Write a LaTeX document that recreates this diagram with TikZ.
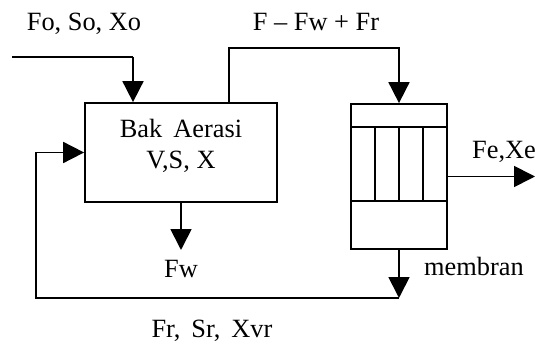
\documentclass[tikz,border=0pt]{standalone}
\usepackage{fontspec}
\setmainfont{Liberation Serif}
\usepackage{tikz}
\usetikzlibrary{arrows.meta,positioning,calc}
\tikzset{
  pipe/.style={line width=1pt,black},
  flow/.style={pipe,-{Triangle[length=0.42cm,width=0.42cm]}},
  tank/.style={draw,line width=1pt,rectangle,inner sep=0pt},
  lbl/.style={font=\fontsize{15}{18}\selectfont,inner sep=0pt},
}
\begin{document}
\begin{tikzpicture}[x=0.02cm,y=-0.02cm]
    \useasboundingbox (0,0) rectangle (535,344);
    % bak aerasi dan membran
    \node[tank,minimum width=3.84cm,minimum height=1.98cm] (bak) at (181,152.5) {};
    \node[lbl,align=center] (baktxt) at (181,146) {Bak\, Aerasi\\V,S, X};
    \node[tank,minimum width=1.92cm,minimum height=2.9cm] (memb) at (399,176.5) {};
    \draw[pipe] (351,127) -- (447,127);
    \draw[pipe] (351,201) -- (447,201);
    \foreach \xx in {375,399,423}
      \draw[pipe] (\xx,127) -- (\xx,201);
    % umpan masuk
    \coordinate (feedL) at (12,57);
    \coordinate (feedC) at (133,57);
    \draw[pipe] (feedL) -- (feedC);
    \draw[flow] (feedC) -- (feedC |- bak.north);
    \node[lbl] (fo) at (84,24) {Fo, So, Xo};
    % aliran ke membran
    \coordinate (topL) at (229,48);
    \draw[flow] (topL |- bak.north) -- (topL) -| (memb.north);
    \node[lbl] (ff) at (316,22) {F -- Fw + Fr};
    % efluen
    \coordinate (eff) at (535,176.5);
    \draw[flow] (memb.east) -- (eff);
    \node[lbl] (fe) at (504,152) {Fe,Xe};
    % buangan lumpur
    \coordinate (fwend) at (181,250);
    \draw[flow] (bak.south) -- (fwend);
    \node[lbl] (fw) at (181,269) {Fw};
    % resirkulasi
    \coordinate (recR) at (399,298);
    \coordinate (recL) at (36,298);
    \draw[flow] (memb.south) -- (recR);
    \draw[flow] (recR) -- (recL) |- (bak.west);
    \node[lbl] (memlbl) at (474,266) {membran};
    \node[lbl] (fr) at (212,331) {Fr,\, Sr,\, Xvr};
\end{tikzpicture}
\end{document}
